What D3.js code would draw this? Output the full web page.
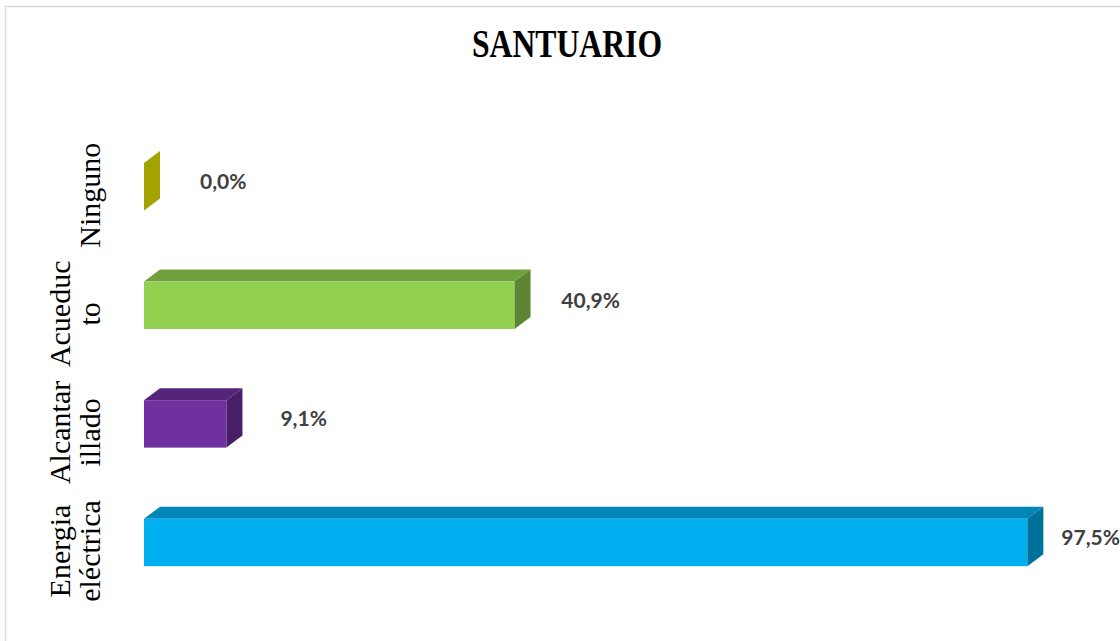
<!DOCTYPE html>
<html>
<head>
<meta charset="utf-8">
<script src="https://cdn.jsdelivr.net/npm/d3@7"></script>
<style>
  html, body { margin: 0; padding: 0; background: #fff; }
  svg { display: block; }
</style>
</head>
<body>
<svg id="chart" width="1120" height="641"></svg>
<script>
// ---- data ----
const title = "SANTUARIO";
const categories = ["Ninguno", "Acueducto", "Alcantarillado", "Energia eléctrica"];
const categoryLabelLines = [["Ninguno"], ["Acueduc", "to"], ["Alcantar", "illado"], ["Energia", "eléctrica"]];
const values = [0.0, 40.9, 9.1, 97.5];
const valueLabels = ["0,0%", "40,9%", "9,1%", "97,5%"];
const barColors = ["#FFFF00", "#92D050", "#7030A0", "#00B0F0"];

// ---- layout ----
const svg = d3.select("#chart");
const W = 1120, H = 641;
const depthX = 16, depthY = 12;

svg.append("rect")
  .attr("x", 5.5).attr("y", 6.5)
  .attr("width", W + 20).attr("height", H + 20)
  .attr("fill", "#fff").attr("stroke", "#d9d9d9").attr("stroke-width", 1.5);

const x = d3.scaleLinear().domain([0, 100]).range([144, 144 + 906]);
const y = d3.scaleBand().domain(categories).range([127.4, 601.8])
  .paddingInner(0.6).paddingOuter(0.3);

const data = categories.map((c, i) => ({
  cat: c, value: values[i], label: valueLabels[i], lines: categoryLabelLines[i], color: barColors[i]
}));

const bars = svg.append("g").selectAll("g").data(data).join("g");

// top face
bars.append("path")
  .attr("fill", d => d3.color(d.color).darker(0.75))
  .attr("d", d => {
    const x0 = x(0), x1 = x(d.value), y0 = y(d.cat);
    return `M${x0},${y0}L${x0 + depthX},${y0 - depthY}L${x1 + depthX},${y0 - depthY}L${x1},${y0}Z`;
  });
// front face
bars.append("rect")
  .attr("x", x(0))
  .attr("y", d => y(d.cat))
  .attr("width", d => x(d.value) - x(0))
  .attr("height", y.bandwidth())
  .attr("fill", d => d.color);
// side face
bars.append("path")
  .attr("fill", d => d3.color(d.color).darker(1.25))
  .attr("d", d => {
    const x1 = x(d.value), y0 = y(d.cat), y1 = y0 + y.bandwidth();
    return `M${x1},${y0}L${x1 + depthX},${y0 - depthY}L${x1 + depthX},${y1 - depthY}L${x1},${y1}Z`;
  });

// value labels
bars.append("text")
  .attr("x", d => x(d.value) + 56 - 0.025 * (x(d.value) - x(0)))
  .attr("y", d => y(d.cat) + y.bandwidth() / 2 - 3)
  .attr("dominant-baseline", "middle")
  .attr("font-family", "Lato, 'Open Sans', sans-serif")
  .attr("font-weight", "bold")
  .attr("font-size", 21)
  .attr("fill", "#404040")
  .text(d => d.label);

// category labels (rotated)
const labels = svg.append("g").selectAll("text").data(data).join("text")
  .attr("transform", d => `translate(100,${y(d.cat) + y.bandwidth() / 2 + 8.5}) rotate(-90)`)
  .attr("text-anchor", "middle")
  .attr("font-family", "'Liberation Serif', 'Times New Roman', serif")
  .attr("font-size", 30)
  .attr("fill", "#000");
labels.each(function(d) {
  const n = d.lines.length;
  d3.select(this).selectAll("tspan").data(d.lines).join("tspan")
    .attr("x", 0)
    .attr("y", (l, i) => -(n - 1 - i) * 30)
    .text(l => l);
});

// title
svg.append("text")
  .attr("transform", "translate(567,57) scale(1,1.28)")
  .attr("text-anchor", "middle")
  .attr("font-family", "'Liberation Serif', 'Times New Roman', serif")
  .attr("font-weight", "bold")
  .attr("font-size", 31.7)
  .attr("fill", "#000")
  .text(title);
</script>
</body>
</html>
